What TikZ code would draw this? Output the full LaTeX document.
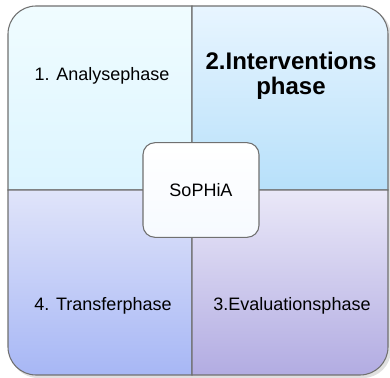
\documentclass[tikz,border=0pt]{standalone}
\usepackage{fontspec}
\setmainfont{Liberation Sans}
\usepackage{tikz}
\usetikzlibrary{positioning}
\definecolor{edgegray}{RGB}{112,112,112}
\definecolor{anatop}{RGB}{240,252,255}
\definecolor{anabot}{RGB}{220,245,255}
\definecolor{intertop}{RGB}{232,245,255}
\definecolor{interbot}{RGB}{183,224,250}
\definecolor{evaltop}{RGB}{234,232,248}
\definecolor{evalbot}{RGB}{178,172,226}
\definecolor{transtop}{RGB}{224,228,250}
\definecolor{transbot}{RGB}{167,183,245}

\begin{document}
\begin{tikzpicture}[x=0.75pt,y=-0.75pt,
		quarter/.style={draw=edgegray,line width=0.8pt},
		phase/.style={font=\fontsize{13.5}{16}\selectfont,align=center},
		hubbox/.style={draw=edgegray,line width=0.8pt,rounded corners=9pt,
			top color=white,bottom color={rgb,255:red,246;green,250;blue,255},
			minimum width=87pt,minimum height=71pt,font=\fontsize{13.5}{16}\selectfont}]
		\useasboundingbox (0,0) rectangle (390,378);
		% shadow
		\fill[black!12,rounded corners=21pt] (10,8) rectangle (391,378);
		% the four phases
		\shade[quarter,top color=anatop,bottom color=anabot] (8,100) [rounded corners=21pt] -- (8,6) -- (100,6) [sharp corners] -- (192,6) -- (192,190) -- (8,190) -- cycle;
		\shade[quarter,top color=intertop,bottom color=interbot] (290,6) [rounded corners=21pt] -- (388,6) -- (388,100) [sharp corners] -- (388,190) -- (192,190) -- (192,6) -- cycle;
		\shade[quarter,top color=transtop,bottom color=transbot] (8,280) [rounded corners=21pt] -- (8,375) -- (100,375) [sharp corners] -- (192,375) -- (192,190) -- (8,190) -- cycle;
		\shade[quarter,top color=evaltop,bottom color=evalbot] (290,375) [rounded corners=21pt] -- (388,375) -- (388,280) [sharp corners] -- (388,190) -- (192,190) -- (192,375) -- cycle;
		% labels
		\node[phase] (ana) at (102,76) {1. Analysephase};
		\node[phase,font=\fontsize{18}{19}\selectfont\bfseries] (inter) at (291,76) {2.Interventions\\phase};
		\node[phase] (eval) at (292,306) {3.Evaluationsphase};
		\node[phase] (trans) at (103,306) {4. Transferphase};
		% centre
		\node[hubbox] (hub) at (201,190) {SoPHiA};
	\end{tikzpicture}
\end{document}
